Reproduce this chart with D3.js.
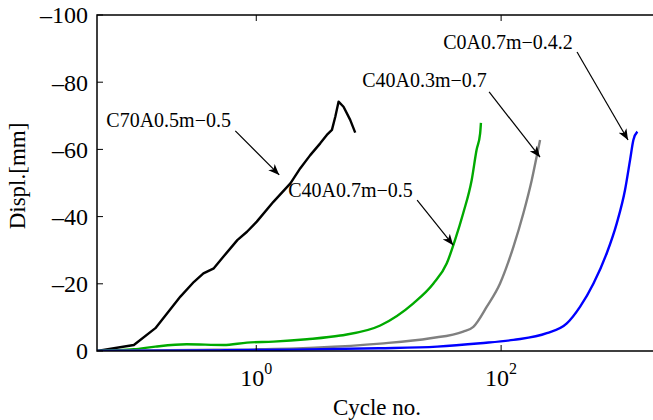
<!DOCTYPE html>
<html>
<head>
<meta charset="utf-8">
<script src="https://cdn.jsdelivr.net/npm/d3@7"></script>
<style>
  body { margin: 0; background: #fff; }
  text { font-family: "Liberation Serif", "Times New Roman", serif; fill: #000; }
</style>
</head>
<body>
<div id="container"></div>
<script>
// series: [cycle no., displacement mm]
const c70 = [[0.05,0],[0.1,-1.8],[0.15,-6.8],[0.24,-16.2],[0.31,-20.6],[0.37,-23.1],[0.45,-24.6],
  [0.54,-28.1],[0.70,-33.0],[0.84,-35.5],[1.01,-38.5],[1.38,-44.4],[1.90,-49.9],[2.29,-54.4],
  [2.76,-58.3],[3.33,-61.8],[3.77,-64.3],[4.15,-65.8],[4.42,-69.7],[4.70,-74.2],[5.16,-72.7],
  [5.85,-68.8],[6.43,-65.0]];
const c40a07 = [[0.05,0],[0.1,-0.5],[0.15,-1.3],[0.27,-2.0],[0.54,-1.8],[0.84,-2.5],[1.38,-2.8],
  [2.59,-3.5],[4.85,-4.6],[10.3,-7.6],[19.2,-14.2],[28,-20.1],[36,-26.1],[42,-33.0],[49,-41.0],
  [57.5,-50.9],[63,-59.8],[67.4,-64.8],[68.4,-67.9]];
const c40a03 = [[0.05,0],[0.3,-0.3],[1,-0.5],[3,-1.0],[10.3,-2.2],[26.4,-3.8],[49,-5.8],[59.3,-7.2],
  [76.4,-13.2],[98,-20.1],[126,-31.0],[152,-41.0],[178,-50.9],[195,-57.8],[208,-62.8]];
const c0a07 = [[0.05,0],[0.5,-0.2],[2,-0.4],[10,-0.8],[30,-1.3],[67.6,-2.3],[126,-3.3],[236,-5.3],
  [344,-8.2],[442,-13.2],[568,-20.1],[729,-29.1],[880,-38.0],[1028,-47.9],[1130,-56.8],
  [1203,-62.8],[1297,-65.3]];

const seriesNames  = ["C70A0.5m−0.5", "C40A0.7m−0.5", "C40A0.3m−0.7", "C0A0.7m−0.4.2"];
const seriesColors = ["#000000", "#00aa00", "#808080", "#0000ff"];
const seriesData   = [c70, c40a07, c40a03, c0a07];

// annotation: label anchor [cycle, disp], arrow from, arrow to
const labelAt   = [[0.0596,-66.7],[1.825,-45.8],[7.33,-78.6],[33.6,-89.9]];
const arrowFrom = [[0.674,-65.5],[20.6,-44.9],[79.8,-77.1],[417,-89.0]];
const arrowTo   = [[1.54,-52.4],[40.6,-31.5],[208,-57.7],[1088,-62.8]];

const xTicks = [1, 100];
const yTicks = [0, -20, -40, -60, -80, -100];

const width = 653, height = 420;
const margin = { top: 15, left: 97, bottom: 69 };

const svg = d3.select("#container").append("svg")
  .attr("width", width).attr("height", height);

const x = d3.scaleLog().domain([0.05, 2000]).range([margin.left, 660.4]);
const y = d3.scaleLinear().domain([0, -100]).range([height - margin.bottom, margin.top]);

const defs = svg.append("defs");
defs.append("clipPath").attr("id", "clip")
  .append("rect").attr("x", margin.left).attr("y", margin.top)
  .attr("width", 660 - margin.left).attr("height", y(0) - margin.top);
defs.append("marker")
  .attr("id", "head").attr("markerUnits", "userSpaceOnUse")
  .attr("viewBox", "0 -5 12 10").attr("refX", 11).attr("refY", 0)
  .attr("markerWidth", 12).attr("markerHeight", 10).attr("orient", "auto")
  .append("path").attr("d", "M0,-4.5L11,0L0,4.5L3,0Z").attr("fill", "#000");

// curves
const line = d3.line().x(d => x(d[0])).y(d => y(d[1]));
svg.append("g").attr("clip-path", "url(#clip)")
  .selectAll("path").data(seriesData).join("path")
    .attr("d", (d, i) => line.curve(i === 0 ? d3.curveLinear : d3.curveMonotoneX)(d))
    .attr("fill", "none")
    .attr("stroke", (d, i) => seriesColors[i])
    .attr("stroke-width", 2.4)
    .attr("stroke-linejoin", "round");

// frame
svg.append("path")
  .attr("d", `M${x.range()[1]},${margin.top}H${margin.left}V${y(0)}H${x.range()[1]}`)
  .attr("fill", "none").attr("stroke", "#000").attr("stroke-width", 1.5);

// ticks
const tk = 6;
svg.append("g").selectAll("line").data(yTicks).join("line")
  .attr("x1", margin.left).attr("x2", margin.left + tk)
  .attr("y1", d => y(d)).attr("y2", d => y(d))
  .attr("stroke", "#000").attr("stroke-width", 1);
svg.append("g").selectAll("text").data(yTicks).join("text")
  .attr("x", margin.left - 9).attr("y", d => y(d)).attr("dy", "0.35em")
  .attr("text-anchor", "end").attr("font-size", 24)
  .text(d => d === 0 ? "0" : "\u2013" + Math.abs(d));

const xt = svg.append("g");
xt.selectAll("line.b").data(xTicks).join("line").attr("class", "b")
  .attr("x1", d => x(d)).attr("x2", d => x(d))
  .attr("y1", y(0)).attr("y2", y(0) - tk).attr("stroke", "#000");
xt.selectAll("line.t").data(xTicks).join("line").attr("class", "t")
  .attr("x1", d => x(d)).attr("x2", d => x(d))
  .attr("y1", margin.top).attr("y2", margin.top + tk).attr("stroke", "#000");
const xl = xt.selectAll("text").data(xTicks).join("text")
  .attr("x", d => x(d)).attr("y", 386).attr("text-anchor", "middle").attr("font-size", 24);
xl.append("tspan").text("10");
xl.append("tspan").attr("dy", -12).attr("font-size", 16).text(d => Math.round(Math.log10(d)));

// axis titles
svg.append("text").attr("x", 377).attr("y", 415).attr("text-anchor", "middle")
  .attr("font-size", 23).text("Cycle no.");
svg.append("text").attr("transform", "translate(25,176) rotate(-90)")
  .attr("text-anchor", "middle").attr("font-size", 23).text("Displ.[mm]");

// annotations
const ann = svg.append("g");
ann.selectAll("text").data(seriesNames).join("text")
  .attr("x", (d, i) => x(labelAt[i][0])).attr("y", (d, i) => y(labelAt[i][1]))
  .attr("font-size", 20).text(d => d);
ann.selectAll("line").data(seriesNames).join("line")
  .attr("x1", (d, i) => x(arrowFrom[i][0])).attr("y1", (d, i) => y(arrowFrom[i][1]))
  .attr("x2", (d, i) => x(arrowTo[i][0])).attr("y2", (d, i) => y(arrowTo[i][1]))
  .attr("stroke", "#000").attr("stroke-width", 1.2)
  .attr("marker-end", "url(#head)");
</script>
</body>
</html>
